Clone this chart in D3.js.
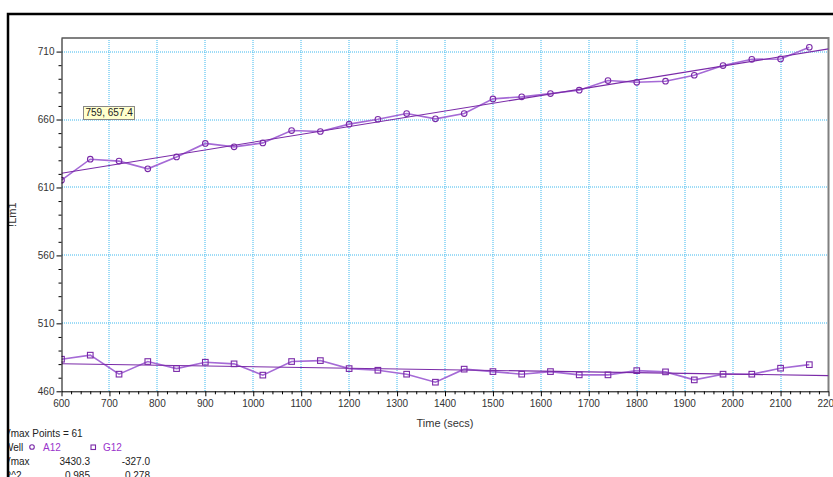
<!DOCTYPE html>
<html>
<head>
<meta charset="utf-8">
<script src="https://cdn.jsdelivr.net/npm/d3@7"></script>
<style>
  html, body { margin: 0; padding: 0; background: #fff; }
  svg { display: block; font-family: "Liberation Sans", Arial, sans-serif; }
</style>
</head>
<body>
<svg id="chart" width="833" height="477"></svg>
<script>
// Sample times (s) and readings for the two wells
const times = [600, 660, 720, 780, 840, 900, 960, 1020, 1080, 1140, 1200, 1260, 1320, 1380,
               1440, 1500, 1560, 1620, 1680, 1740, 1800, 1860, 1920, 1980, 2040, 2100, 2160];
const a12 = [615.4, 630.8, 629.4, 623.7, 632.5, 642.4, 639.9, 642.8, 651.9, 651.2, 656.6, 660.2, 664.4, 660.5,
             664.4, 675.2, 676.7, 679.1, 681.6, 688.7, 687.4, 688.2, 692.6, 699.7, 704.3, 704.6, 713.2];
const g12 = [483.6, 486.6, 472.6, 481.9, 476.7, 481.4, 480.2, 471.9, 481.9, 482.6, 476.7, 475.5, 472.6, 466.7,
             476.3, 474.5, 472.6, 474.5, 472.1, 472.1, 475.2, 474.3, 468.4, 472.6, 472.6, 477.0, 479.6];
const wells = ["A12", "G12"];
const vmax = [3430.3, -327.0];       // milli-units per minute
const rSquared = [0.985, 0.278];
const vmaxPoints = 61;
const xTicks = [600, 700, 800, 900, 1000, 1100, 1200, 1300, 1400, 1500, 1600, 1700, 1800, 1900, 2000, 2100, 2200];
const yTicks = [460, 510, 560, 610, 660, 710];
const cursorPoint = [759, 657.4];

const svg = d3.select("#chart");
const pLeft = 61.5, pRight = 828.5, pTop = 38, pBottom = 391.3;
const x = d3.scaleLinear().domain([600, 2200]).range([pLeft, pRight]);
const y = d3.scaleLinear().domain([460, 720]).range([pBottom, pTop]);

const purple = "#7a2aa8", light = "#a56ad6";
const gridColor = "#3cb8ee";

// Dotted grid
const grid = svg.append("g");
grid.selectAll("line.v").data(xTicks.filter(t => t > 600 && t < 2200)).join("line").attr("class", "v")
  .attr("x1", d => Math.round(x(d))).attr("x2", d => Math.round(x(d)))
  .attr("y1", pTop).attr("y2", Math.round(pBottom))
  .attr("stroke", gridColor).attr("stroke-dasharray", "1,1").attr("stroke-width", 1);
grid.selectAll("line.h").data(yTicks.filter(t => t > 460)).join("line").attr("class", "h")
  .attr("y1", d => Math.round(y(d))).attr("y2", d => Math.round(y(d)))
  .attr("x1", Math.round(pLeft)).attr("x2", Math.round(pRight))
  .attr("stroke", gridColor).attr("stroke-dasharray", "1,1").attr("stroke-width", 1);

// Plot frame (top and right)
svg.append("path")
  .attr("d", `M${pLeft},${pTop}H${pRight}V${pBottom}`)
  .attr("fill", "none").attr("stroke", "#808080").attr("stroke-width", 2);

// Clip for the series
svg.append("clipPath").attr("id", "plot")
  .append("rect").attr("x", pLeft).attr("y", pTop).attr("width", pRight - pLeft).attr("height", pBottom - pTop);
const plot = svg.append("g").attr("clip-path", "url(#plot)");

const series = [a12, g12];
series.forEach((vals, i) => {
  const pts = times.map((t, j) => [t, vals[j]]);
  // least-squares line through the centroid with slope from Vmax
  const mx = d3.mean(times), my = d3.mean(vals);
  const slope = vmax[i] / 1000 / 60;
  const fit = [600, 2200].map(t => [t, my + slope * (t - mx)]);
  const line = d3.line().x(d => x(d[0])).y(d => y(d[1]));
  plot.append("path").attr("d", line(pts)).attr("fill", "none")
    .attr("stroke", light).attr("stroke-width", 1.6);
  plot.append("path").attr("d", line(fit)).attr("fill", "none")
    .attr("stroke", purple).attr("stroke-width", 1.1);
  if (i === 0) {
    plot.selectAll(null).data(pts).join("circle")
      .attr("cx", d => x(d[0])).attr("cy", d => y(d[1])).attr("r", 2.8)
      .attr("fill", "none").attr("stroke", purple).attr("stroke-width", 1.1);
  } else {
    plot.selectAll(null).data(pts).join("rect")
      .attr("x", d => x(d[0]) - 2.8).attr("y", d => y(d[1]) - 2.8)
      .attr("width", 5.6).attr("height", 5.6)
      .attr("fill", "none").attr("stroke", purple).attr("stroke-width", 1.1);
  }
});

// Axes
const xAxis = svg.append("g").attr("transform", `translate(0,${pBottom})`);
xAxis.call(d3.axisBottom(x).tickValues(d3.range(600, 2201, 20)).tickFormat("").tickSizeOuter(0).tickSizeInner(3));
xAxis.selectAll(".tick line").filter(d => d % 100 === 0).attr("y2", 5);
xAxis.select(".domain").attr("stroke", "#000");
xAxis.selectAll("text.lbl").data(xTicks).join("text").attr("class", "lbl")
  .attr("x", d => x(d)).attr("y", 15.7).attr("text-anchor", "middle")
  .attr("font-size", 10).attr("fill", "#333").text(d => d);

const yAxis = svg.append("g").attr("transform", `translate(${pLeft},0)`);
yAxis.call(d3.axisLeft(y).tickValues(d3.range(460, 711, 10)).tickFormat("").tickSizeOuter(0).tickSizeInner(3));
yAxis.selectAll(".tick line").filter(d => (d - 460) % 50 === 0).attr("x2", -5);
yAxis.select(".domain").attr("stroke", "#000");
yAxis.selectAll("text.lbl").data(yTicks).join("text").attr("class", "lbl")
  .attr("x", -7).attr("y", d => y(d)).attr("dy", "0.35em").attr("text-anchor", "end")
  .attr("font-size", 10).attr("fill", "#333").text(d => d);

// Axis titles
svg.append("text").attr("x", (pLeft + pRight) / 2).attr("y", 427).attr("text-anchor", "middle")
  .attr("font-size", 11).attr("fill", "#333").text("Time (secs)");
svg.append("text").attr("transform", `translate(16,${(pTop + pBottom) / 2}) rotate(-90)`)
  .attr("text-anchor", "middle").attr("font-size", 11).attr("fill", "#333").text("!Lm1");

// Cursor readout
const tip = svg.append("g");
const tipText = `${cursorPoint[0]}, ${cursorPoint[1]}`;
const tx = x(cursorPoint[0]) - 3, ty = y(cursorPoint[1]) - 4;
const tt = tip.append("text").attr("font-size", 10).attr("fill", "#222").text(tipText);
const tw = tt.node().getComputedTextLength() + 4;
tip.insert("rect", "text").attr("x", Math.round(tx - tw) + 0.5).attr("y", Math.round(ty - 13) + 0.5)
  .attr("width", Math.round(tw)).attr("height", 13)
  .attr("fill", "#ffffcc").attr("stroke", "#888").attr("stroke-width", 1);
tt.attr("x", tx - tw + 2).attr("y", ty - 3);

// Statistics block
const leg = svg.append("g").attr("font-size", 10).attr("fill", "#222");
leg.append("text").attr("x", 4).attr("y", 437).text(`Vmax Points = ${vmaxPoints}`);
leg.append("text").attr("x", 4).attr("y", 451).text("Well");
leg.append("circle").attr("cx", 32).attr("cy", 447).attr("r", 2.3)
  .attr("fill", "none").attr("stroke", purple).attr("stroke-width", 1.1);
leg.append("rect").attr("x", 91).attr("y", 445).attr("width", 4.5).attr("height", 4.5)
  .attr("fill", "none").attr("stroke", purple).attr("stroke-width", 1.1);
leg.selectAll("text.w").data(wells).join("text").attr("class", "w")
  .attr("x", (d, i) => i === 0 ? 43 : 103).attr("y", 451).attr("fill", "#9933cc").text(d => d);
leg.append("text").attr("x", 4).attr("y", 465).text("Vmax");
leg.selectAll("text.v").data(vmax).join("text").attr("class", "v")
  .attr("x", (d, i) => i === 0 ? 90 : 150).attr("y", 465).attr("text-anchor", "end").text(d => d.toFixed(1));
leg.append("text").attr("x", 4).attr("y", 479).text("R^2");
leg.selectAll("text.r").data(rSquared).join("text").attr("class", "r")
  .attr("x", (d, i) => i === 0 ? 90 : 150).attr("y", 479).attr("text-anchor", "end").text(d => d.toFixed(3));

// Outer panel border
svg.append("rect").attr("x", 0).attr("y", 0).attr("width", 7).attr("height", 477).attr("fill", "#fff");
svg.append("path").attr("d", "M8,477V14H833").attr("fill", "none").attr("stroke", "#000").attr("stroke-width", 2.5);
</script>
</body>
</html>
